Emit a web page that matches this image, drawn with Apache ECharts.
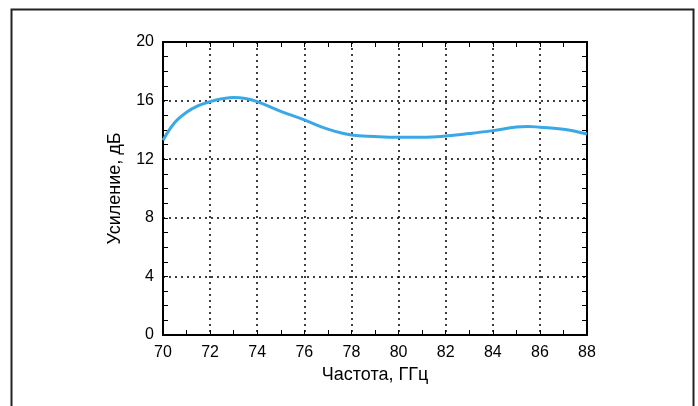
<!DOCTYPE html>
<html><head><meta charset="utf-8">
<script src="https://cdn.jsdelivr.net/npm/echarts@6/dist/echarts.min.js"></script>
<style>html,body{margin:0;padding:0;background:#fff}#c{width:698px;height:406px}</style>
</head><body><div id="c"></div>
<script>
const freq = [70, 70.5, 71, 71.5, 72, 72.5, 73, 73.5, 74, 75, 76, 77, 78, 79, 80, 81, 82, 83, 84, 85, 85.5, 86, 87, 88];
const gain = [13.3, 14.5, 15.2, 15.65, 15.93, 16.12, 16.22, 16.15, 15.93, 15.27, 14.68, 14.05, 13.65, 13.55, 13.5, 13.5, 13.58, 13.75, 13.95, 14.2, 14.24, 14.18, 14.04, 13.72];
const xTicks = [70, 72, 74, 76, 78, 80, 82, 84, 86, 88];
const yTicks = [0, 4, 8, 12, 16, 20];
const xName = 'Частота, ГГц';
const yName = 'Усиление, дБ';

const chart = echarts.init(document.getElementById('c'), null, {renderer: 'canvas'});
const font = 'Liberation Sans, Arial, sans-serif';
const axisCommon = {
  axisLine: {show: true, onZero: false, lineStyle: {color: '#000', width: 2}},
  axisTick: {show: true, inside: true, length: 5, lineStyle: {color: '#000', width: 1}},
};
chart.setOption({
  animation: false,
  graphic: [{type: 'rect', shape: {x: 11.5, y: 9.5, width: 682, height: 420}, style: {fill: 'none', stroke: '#222', lineWidth: 2}, silent: true}],
  grid: {left: 163, right: 111, top: 42, bottom: 71},
  xAxis: [
    Object.assign({}, axisCommon, {
      type: 'value', min: xTicks[0], max: xTicks[xTicks.length - 1], interval: 2,
      minorTick: {show: true, splitNumber: 2, length: 5, lineStyle: {color: '#000'}},
      name: xName, nameLocation: 'middle', nameGap: 29,
      nameTextStyle: {fontFamily: font, fontSize: 18, color: '#000'},
      axisLabel: {fontFamily: font, fontSize: 16, color: '#000', margin: 10},
      splitLine: {show: true, lineStyle: {color: '#000', type: [2, 4], width: 1.5}}
    }),
    Object.assign({}, axisCommon, {
      type: 'value', position: 'top', min: xTicks[0], max: xTicks[xTicks.length - 1], interval: 2,
      minorTick: {show: true, splitNumber: 2, length: 5, lineStyle: {color: '#000'}},
      axisLabel: {show: false}, splitLine: {show: false}
    })
  ],
  yAxis: [
    Object.assign({}, axisCommon, {
      type: 'value', min: yTicks[0], max: yTicks[yTicks.length - 1], interval: 4,
      minorTick: {show: true, splitNumber: 4, length: 5, lineStyle: {color: '#000'}},
      name: yName, nameLocation: 'middle', nameGap: 39, nameRotate: 90,
      nameTextStyle: {fontFamily: font, fontSize: 18, color: '#000'},
      axisLabel: {fontFamily: font, fontSize: 16, color: '#000', margin: 9},
      splitLine: {show: true, lineStyle: {color: '#000', type: [2, 4], width: 1.5}}
    }),
    Object.assign({}, axisCommon, {
      type: 'value', position: 'right', min: yTicks[0], max: yTicks[yTicks.length - 1], interval: 4,
      minorTick: {show: true, splitNumber: 4, length: 5, lineStyle: {color: '#000'}},
      axisLabel: {show: false}, splitLine: {show: false}
    })
  ],
  series: [{
    type: 'line', smooth: 0.4, showSymbol: false, symbol: 'none',
    data: freq.map((f, i) => [f, gain[i]]),
    lineStyle: {color: '#3aa8e6', width: 3}, z: 5
  }]
});
</script></body></html>
